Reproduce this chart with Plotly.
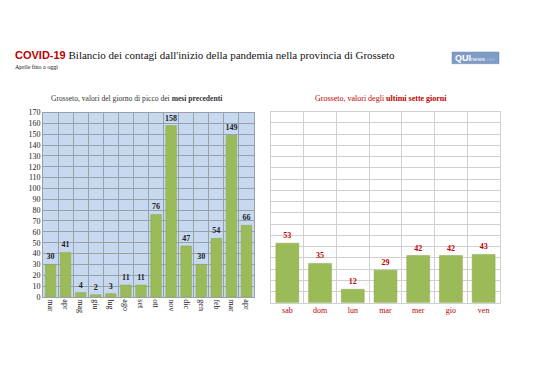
import plotly.graph_objects as go

months = ["mar", "apr", "mag", "giu", "lug", "ago", "set", "ott", "nov", "dic", "gen", "feb", "mar ", "apr "]
peak_values = [30, 41, 4, 2, 3, 11, 11, 76, 158, 47, 30, 54, 149, 66]
days = ["sab", "dom", "lun", "mar", "mer", "gio", "ven"]
week_values = [53, 35, 12, 29, 42, 42, 43]
y_ticks = list(range(0, 171, 10))

SERIF = "Liberation Serif, Times New Roman, serif"
GREEN = "#9bbb59"
RED = "#c00000"

# The page body has an 8px margin; map reference pixel positions into paper coords.
OFF = 8
W, H = 538 - OFF, 380 - OFF


def px(x):
    return (x - OFF) / W


def py(y):
    return 1 - (y - OFF) / H


fig = go.Figure()
fig.add_trace(go.Bar(
    x=months, y=peak_values, xaxis="x", yaxis="y",
    marker=dict(color=GREEN, line=dict(color="#8aa84c", width=0.5)),
    text=[f"<b>{v}</b>" for v in peak_values], textposition="outside",
    constraintext="none",
    textfont=dict(family=SERIF, size=8, color="#222222"), cliponaxis=False,
    showlegend=False,
))
fig.add_trace(go.Bar(
    x=days, y=week_values, xaxis="x2", yaxis="y2",
    marker=dict(color=GREEN, line=dict(color="#8aa84c", width=0.5)),
    text=[f"<b>{v}</b>" for v in week_values], textposition="outside",
    constraintext="none",
    textfont=dict(family=SERIF, size=8, color=RED), cliponaxis=False,
    showlegend=False,
))

fig.update_layout(
    width=W, height=H,
    margin=dict(l=0, r=0, t=0, b=0),
    paper_bgcolor="white",
    plot_bgcolor="white",
    bargap=0.3,
    xaxis=dict(domain=[px(43), px(254)], anchor="y", type="category", tickson="boundaries",
               showgrid=True, gridcolor="#9aa0a6", gridwidth=0.6, ticks="", tickangle=90,
               tickfont=dict(family=SERIF, size=8, color="#222222"),
               showline=True, linecolor="#9aa0a6", mirror=True, linewidth=0.6),
    yaxis=dict(domain=[py(300), py(111)], anchor="x", range=[0, 170], tickvals=y_ticks,
               showgrid=True, gridcolor="#9aa0a6", gridwidth=0.6, ticks="",
               tickfont=dict(family=SERIF, size=8, color="#222222"),
               showline=True, linecolor="#9aa0a6", mirror=True, linewidth=0.6, zeroline=False),
    xaxis2=dict(domain=[px(271), px(500)], anchor="y2", type="category", tickson="boundaries",
                showgrid=True, gridcolor="#d0d0d0", gridwidth=0.8, ticks="",
                tickfont=dict(family=SERIF, size=8, color=RED),
                showline=True, linecolor="#d0d0d0", mirror=True, linewidth=0.8),
    yaxis2=dict(domain=[py(306), py(110)], anchor="x2", range=[0, 170], tickvals=y_ticks,
                showticklabels=False, showgrid=True, gridcolor="#d0d0d0", gridwidth=0.8, ticks="",
                showline=True, linecolor="#d0d0d0", mirror=True, linewidth=0.8, zeroline=False),
    shapes=[
        dict(type="rect", xref="x domain", yref="y domain", x0=0, x1=1, y0=0, y1=1,
             fillcolor="#c6d9f1", line=dict(width=0), layer="below"),
        dict(type="rect", xref="paper", yref="paper", x0=px(452), x1=px(499),
             y0=py(61), y1=py(49), fillcolor="#7f9cc6", line=dict(color="#6d88b0", width=0.5)),
    ],
    annotations=[
        dict(xref="paper", yref="paper", x=px(13), y=py(52), xanchor="left", yanchor="middle",
             showarrow=False,
             text="<span style='font-family:Liberation Sans, Arial, sans-serif;color:#c00000'><b>COVID-19</b></span>"
                  " Bilancio dei contagi dall'inizio della pandemia nella provincia di Grosseto",
             font=dict(family=SERIF, size=11, color="#111111")),
        dict(xref="paper", yref="paper", x=px(13), y=py(64), xanchor="left", yanchor="middle",
             showarrow=False, text="Aprile fino a oggi",
             font=dict(family=SERIF, size=6, color="#111111")),
        dict(xref="paper", yref="paper", x=px(136), y=py(97), xanchor="center", yanchor="middle",
             showarrow=False, text="Grosseto, valori del giorno di picco dei <b>mesi precedenti</b>",
             font=dict(family=SERIF, size=7.6, color="#333333")),
        dict(xref="paper", yref="paper", x=px(381), y=py(97), xanchor="center", yanchor="middle",
             showarrow=False, text="Grosseto, valori degli <b>ultimi sette giorni</b>",
             font=dict(family=SERIF, size=8, color=RED)),
        dict(xref="paper", yref="paper", x=px(453), y=py(55), xanchor="left", yanchor="middle",
             showarrow=False,
             text="<b>QUI</b><span style='font-size:6px'>news</span><span style='font-size:6px;color:#a9bedc'>.net</span>",
             font=dict(family="Liberation Sans, Arial, sans-serif", size=9, color="white")),
    ],
)

fig.write_html("out.html")
